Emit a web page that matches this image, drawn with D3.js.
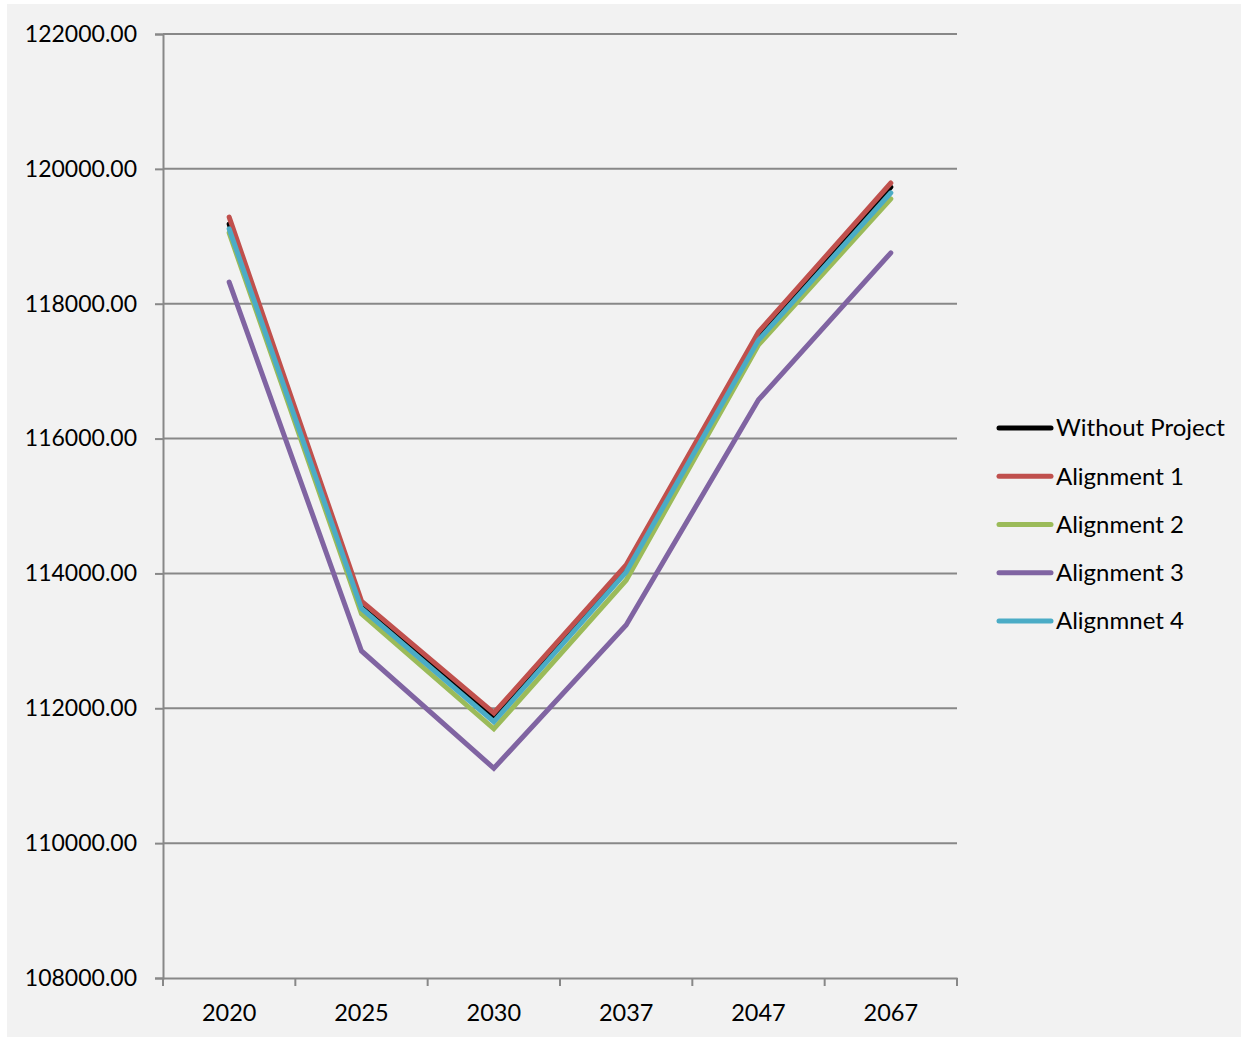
<!DOCTYPE html>
<html>
<head>
<meta charset="utf-8">
<script src="https://cdn.jsdelivr.net/npm/d3@7"></script>
<style>
  html, body { margin: 0; padding: 0; background: #ffffff; }
  svg text { font-family: Lato, "Liberation Sans", Arial, sans-serif; fill: #000; }
</style>
</head>
<body>
<svg id="chart" width="1242" height="1039"></svg>
<script>
// Years on the category axis
const years = ["2020", "2025", "2030", "2037", "2047", "2067"];

// Series values per year
const withoutProject = [119180, 113500, 111870, 114080, 117535, 119730];
const alignment1     = [119285, 113590, 111930, 114125, 117580, 119790];
const alignment2     = [119050, 113400, 111695, 113900, 117390, 119555];
const alignment3     = [118320, 112850, 111110, 113235, 116575, 118755];
const alignment4     = [119110, 113480, 111800, 114020, 117460, 119645];

const seriesNames  = ["Without Project", "Alignment 1", "Alignment 2", "Alignment 3", "Alignmnet 4"];
const seriesValues = [withoutProject, alignment1, alignment2, alignment3, alignment4];
const seriesColors = ["#000000", "#C0504D", "#9BBB59", "#8064A2", "#4BACC6"];

// Y axis ticks
const yTicks = [108000, 110000, 112000, 114000, 116000, 118000, 120000, 122000];

const FONT = "Lato, 'Liberation Sans', Arial, sans-serif";

const svg = d3.select("#chart");
const W = 1242, H = 1039;

// chart area background
svg.append("rect")
  .attr("x", 7).attr("y", 4)
  .attr("width", W - 8).attr("height", H - 6)
  .attr("fill", "#f2f2f2");

const plot = { left: 163, right: 957, top: 34, bottom: 978 };

const x = d3.scaleBand()
  .domain(years)
  .range([plot.left, plot.right])
  .paddingInner(0).paddingOuter(0);

const y = d3.scaleLinear()
  .domain([108000, 122000])
  .range([plot.bottom, plot.top]);

const gridColor = "#888888";

// horizontal gridlines
svg.append("g")
  .selectAll("line")
  .data(yTicks.filter(d => d !== 108000))
  .join("line")
  .attr("x1", plot.left).attr("x2", plot.right)
  .attr("y1", d => y(d)).attr("y2", d => y(d))
  .attr("stroke", gridColor).attr("stroke-width", 2);

// Y axis
const yAxis = svg.append("g")
  .attr("transform", `translate(${plot.left},0)`)
  .call(d3.axisLeft(y).tickValues(yTicks).tickFormat(d3.format(".2f")).tickSize(8).tickPadding(18));
yAxis.select(".domain").attr("stroke", gridColor).attr("stroke-width", 2);
yAxis.selectAll(".tick line").attr("stroke", gridColor).attr("stroke-width", 2);
yAxis.selectAll(".tick text")
  .attr("font-family", FONT)
  .attr("font-size", 23)
  .attr("fill", "#000");

// X axis
const xAxis = svg.append("g")
  .attr("transform", `translate(0,${plot.bottom})`)
  .call(d3.axisBottom(x).tickSize(0).tickPadding(26));
xAxis.select(".domain").attr("stroke", gridColor).attr("stroke-width", 2);
xAxis.selectAll(".tick text")
  .attr("font-family", FONT)
  .attr("font-size", 23.5)
  .attr("fill", "#000");

// category boundary tick marks
const boundaries = years.map(d => x(d)).concat([plot.right]);
svg.append("g")
  .selectAll("line")
  .data(boundaries)
  .join("line")
  .attr("x1", d => d).attr("x2", d => d)
  .attr("y1", plot.bottom).attr("y2", plot.bottom + 8)
  .attr("stroke", gridColor).attr("stroke-width", 2);

// series lines
const line = d3.line()
  .x((d, i) => x(years[i]) + x.bandwidth() / 2)
  .y(d => y(d));

svg.append("g")
  .selectAll("path")
  .data(seriesValues)
  .join("path")
  .attr("d", d => line(d))
  .attr("fill", "none")
  .attr("stroke", (d, i) => seriesColors[i])
  .attr("stroke-width", 5)
  .attr("stroke-linejoin", "miter")
  .attr("stroke-linecap", "round");

// legend
const legend = svg.append("g");
const legendY0 = 428, legendStep = 48.25;
seriesNames.forEach((name, i) => {
  const ly = legendY0 + i * legendStep;
  legend.append("line")
    .attr("x1", 999).attr("x2", 1051)
    .attr("y1", ly).attr("y2", ly)
    .attr("stroke", seriesColors[i])
    .attr("stroke-width", 5)
    .attr("stroke-linecap", "round");
  legend.append("text")
    .attr("x", 1056).attr("y", ly)
    .attr("dy", "0.35em")
    .attr("font-family", FONT)
    .attr("font-size", 24)
    .text(name);
});
</script>
</body>
</html>
